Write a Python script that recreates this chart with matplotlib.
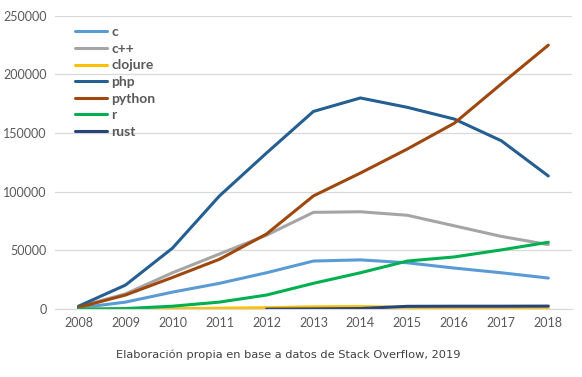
import numpy as np
import matplotlib.pyplot as plt

plt.rcParams['font.family'] = ['Lato', 'DejaVu Sans']

years = [2008, 2009, 2010, 2011, 2012, 2013, 2014, 2015, 2016, 2017, 2018]
c_vals = [1000, 6000, 14500, 22000, 31000, 41000, 42000, 39500, 35000, 31000, 26500]
cpp_vals = [2000, 13000, 31000, 47000, 63000, 82500, 83000, 80000, 71000, 62000, 55000]
clojure_vals = [0, 100, 300, 800, 1200, 2000, 2200, 1500, 1000, 800, 600]
php_vals = [2500, 20500, 52000, 96500, 133000, 168500, 180000, 172000, 162000, 143500, 113500]
python_vals = [1500, 12000, 27000, 42500, 64000, 96500, 116000, 136500, 158500, 192000, 225000]
r_vals = [0, 500, 2500, 6000, 12000, 22000, 31000, 41000, 44500, 50500, 57000]
rust_vals = [np.nan, np.nan, np.nan, np.nan, 0, 200, 500, 2400, 2500, 2500, 2600]

series = [
    ('c', c_vals, '#5B9BD5'),
    ('c++', cpp_vals, '#A5A5A5'),
    ('clojure', clojure_vals, '#FFC000'),
    ('php', php_vals, '#255E91'),
    ('python', python_vals, '#9E480E'),
    ('r', r_vals, '#00B050'),
    ('rust', rust_vals, '#264478'),
]

fig = plt.figure(figsize=(5.82, 3.77), dpi=100)
ax = fig.add_axes([0.0945, 0.180, 0.888, 0.778])

x = np.arange(len(years))
for name, vals, col in series:
    ax.plot(x, vals, color=col, linewidth=2.2, label=name, solid_capstyle='round')

ax.set_xlim(-0.5, len(years) - 0.5)
ax.set_ylim(0, 250000)
ax.set_xticks(x)
ax.set_xticklabels([str(y) for y in years])
ax.set_yticks(range(0, 250001, 50000))
ax.tick_params(length=0, labelsize=9, colors='#595959', pad=6)
ax.grid(axis='y', color='#D9D9D9', linewidth=0.9)
ax.set_axisbelow(True)
for s in ['top', 'right', 'left']:
    ax.spines[s].set_visible(False)
ax.spines['bottom'].set_color('#D9D9D9')

leg = ax.legend(loc='upper left', bbox_to_anchor=(0.015, 1.007), frameon=False,
                handlelength=2.3, handletextpad=0.3, labelspacing=0.33,
                prop={'family': 'Lato', 'size': 10, 'weight': 'bold'})
for t in leg.get_texts():
    t.set_color('#595959')

fig.text(0.495, 0.058, 'Elaboración propia en base a datos de Stack Overflow, 2019',
         ha='center', va='center', fontsize=8.2, color='#404040',
         family='DejaVu Sans')

fig.savefig('out.png', dpi=100)
